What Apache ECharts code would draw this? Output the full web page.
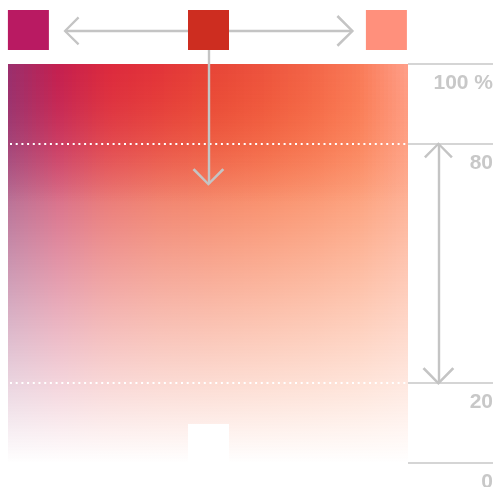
<!DOCTYPE html>
<html>
<head>
<meta charset="utf-8">
<script src="https://cdn.jsdelivr.net/npm/echarts@6/dist/echarts.min.js"></script>
<style>
  html, body { margin: 0; background: #fff; }
  #chart { width: 497px; height: 487px; }
</style>
</head>
<body>
<div id="chart"></div>
<script>
// colour field: one column per hue step, each fading from 100 % (top) to 0 (bottom)
var hueSteps = [];
for (var i = 0; i < 100; i++) hueSteps.push(i + 0.5);
// ramp read near the 50 % row (warmer) and along the top row
var midColors = ['#952a62', '#c62a50', '#e03a34', '#ea4628', '#f04e22', '#f55824', '#f8642e', '#fb743e', '#fd8c64'];
var topColors = ['#9a306e', '#c42050', '#dc2a3e', '#e2343a', '#e64438', '#ec523e', '#f26448', '#f97a58', '#ffa08a'];
var topFadeLevel = 65;

// swatches above the field, white handle below it
var swatchHue = [5.1, 50.125, 94.6];
var swatchLevel = [108.5, 108.5, 108.5];
var swatchColors = ['#b91a62', '#cd2d20', '#ff907c'];
var handlePos = [50.125, 4.9];

// right axis
var levelTicks = [0, 20, 80, 100];
var guideLevels = [80, 20];

// arrows [hue, level]
var hueArrow = [[14.25, 108.3], [86.1, 108.3]];
var dropArrow = [[50.1, 108.3], [50.1, 69.9]];
var rangeArrow = [[107.6, 80], [107.6, 20]];

var chevron = 'path://M0,-15.9 L0.01,-15.9 M0,-1.7 L14.4,14.1 L12.6,15.9 L0,1.7 L-12.6,15.9 L-14.4,14.1 Z';

function fadeColumn(fadeTo) {
  return function (params, api) {
    var h = api.value(0);
    var p0 = api.coord([h - 0.5, 100]);
    var p1 = api.coord([h + 0.5, 0]);
    var c = api.visual('color');
    var clear = echarts.color.modifyAlpha(c, 0);
    return {
      type: 'rect',
      shape: { x: p0[0], y: p0[1], width: p1[0] - p0[0], height: p1[1] - p0[1] },
      style: {
        fill: new echarts.graphic.LinearGradient(0, 0, 0, 1, [
          { offset: 0, color: c },
          { offset: fadeTo, color: clear },
          { offset: 1, color: clear }
        ])
      }
    };
  };
}

var myChart = echarts.init(document.getElementById('chart'));

var option = {
  animation: false,
  grid: { left: 8, top: 64, width: 400, height: 399, outerBoundsMode: 'none', containLabel: false },
  xAxis: { type: 'value', min: 0, max: 100, show: false },
  yAxis: {
    type: 'value', min: 0, max: 100, interval: 20, position: 'right',
    axisLine: { show: false, onZero: false },
    splitLine: { show: false },
    axisTick: { show: true, customValues: levelTicks, length: 85, lineStyle: { color: '#c8c8c8', width: 1.5 } },
    axisLabel: {
      customValues: levelTicks,
      formatter: function (v) { return v === 100 ? '100 %' : String(v); },
      margin: 85, align: 'right', verticalAlign: 'top', padding: [9, 0, 0, 0],
      color: '#c8c8c8', fontSize: 21, fontWeight: 'bold', fontFamily: 'Liberation Sans'
    }
  },
  visualMap: [
    { type: 'continuous', show: false, seriesIndex: 0, dimension: 0, min: 0, max: 100, inRange: { color: midColors } },
    { type: 'continuous', show: false, seriesIndex: 1, dimension: 0, min: 0, max: 100, inRange: { color: topColors } }
  ],
  series: [
    {
      type: 'custom', data: hueSteps, silent: true, z: 1,
      renderItem: fadeColumn(1)
    },
    {
      type: 'custom', data: hueSteps, silent: true, z: 2,
      renderItem: fadeColumn((100 - topFadeLevel) / 100)
    },
    {
      type: 'lines', coordinateSystem: 'cartesian2d',
      clip: false, silent: true, z: 3, symbol: 'none',
      lineStyle: { color: '#ffffff', width: 2, type: [2, 3.7], opacity: 1 },
      data: guideLevels.map(function (v) { return { coords: [[0.5, v], [99.5, v]] }; })
    },
    {
      type: 'lines', coordinateSystem: 'cartesian2d',
      clip: false, silent: true, z: 4,
      symbolSize: [28.8, 31.8],
      lineStyle: { color: '#c4c4c4', width: 2.4, opacity: 1 },
      data: [
        { coords: hueArrow, symbol: [chevron, chevron] },
        { coords: dropArrow, symbol: ['none', chevron] },
        { coords: rangeArrow, symbol: [chevron, chevron] }
      ]
    },
    {
      type: 'scatter', clip: false, silent: true, z: 5,
      symbol: 'rect', symbolSize: [41, 40],
      itemStyle: { opacity: 1 },
      data: swatchHue.map(function (h, k) {
        return { value: [h, swatchLevel[k]], itemStyle: { color: swatchColors[k] } };
      }).concat([{ value: handlePos, symbolSize: [41, 39], itemStyle: { color: '#ffffff' } }])
    }
  ]
};

myChart.setOption(option);
</script>
</body>
</html>
